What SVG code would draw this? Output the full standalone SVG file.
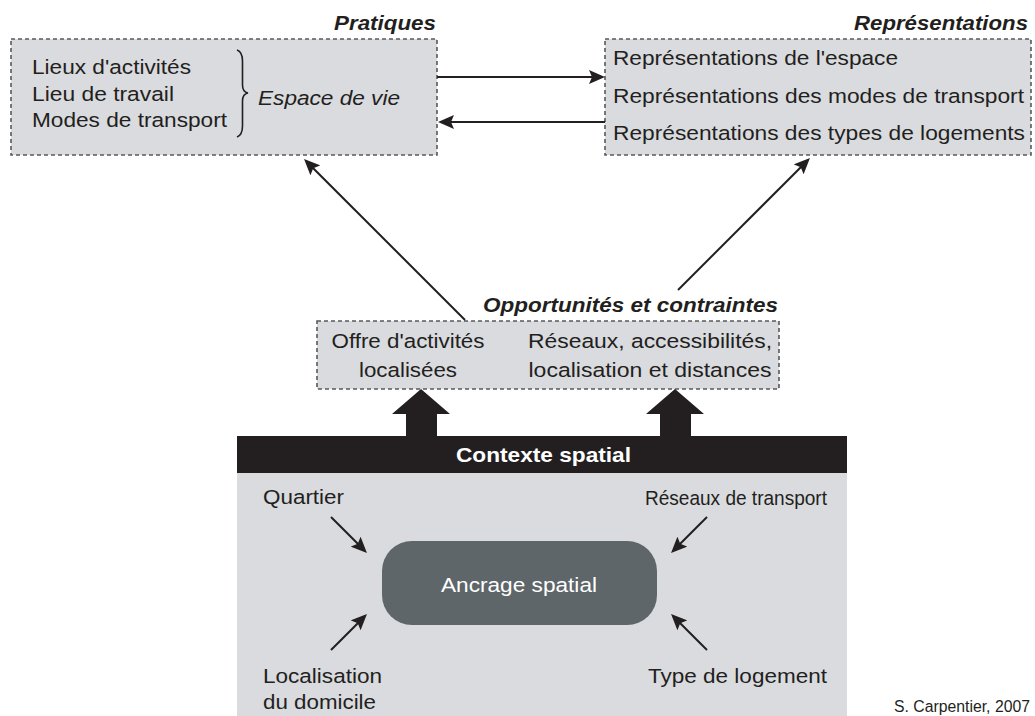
<svg xmlns="http://www.w3.org/2000/svg" width="1035" height="716" viewBox="0 0 1035 716">
<defs>
<style>
text{font-family:"Liberation Sans",Arial,Helvetica,sans-serif;fill:#231f20;font-size:20.5px}
.ttl{font-weight:bold;font-style:italic;text-anchor:end}
.it{font-style:italic}
.mid{text-anchor:middle}
.end{text-anchor:end}
.box{fill:#d9dbdf;stroke:#58595b;stroke-width:1.6;stroke-dasharray:4 3}
.ln{stroke:#231f20;stroke-width:2;fill:none;marker-end:url(#ah)}
.wt{fill:#ffffff}
</style>
<marker id="ah" viewBox="0 0 16 14" refX="8" refY="7" markerWidth="16" markerHeight="14" orient="auto" markerUnits="userSpaceOnUse">
<path d="M0,0 L16,7 L0,14 L3,7 z" fill="#231f20"/>
</marker>
</defs>
<rect width="1035" height="716" fill="#ffffff"/>

<g id="pratiques">
<rect class="box" x="11" y="39" width="426" height="116"/>
<text class="ttl" x="436" y="30" textLength="102" lengthAdjust="spacingAndGlyphs">Pratiques</text>
<text x="32" y="74" textLength="159" lengthAdjust="spacingAndGlyphs">Lieux d'activités</text>
<text x="32" y="100.5" textLength="142" lengthAdjust="spacingAndGlyphs">Lieu de travail</text>
<text x="32" y="126.5" textLength="195" lengthAdjust="spacingAndGlyphs">Modes de transport</text>
<path d="M237,50 Q242.5,52 242.5,61 L242.5,85 Q242.5,92 248,93 Q242.5,94 242.5,101 L242.5,126 Q242.5,135 237,137" fill="none" stroke="#231f20" stroke-width="1.6"/>
<text class="it" x="258" y="105" textLength="142" lengthAdjust="spacingAndGlyphs">Espace de vie</text>
</g>

<g id="representations">
<rect class="box" x="605" y="39" width="426" height="116"/>
<text class="ttl" x="1028" y="30" textLength="174" lengthAdjust="spacingAndGlyphs">Représentations</text>
<text x="613" y="65" textLength="285" lengthAdjust="spacingAndGlyphs">Représentations de l'espace</text>
<text x="613" y="103" textLength="411" lengthAdjust="spacingAndGlyphs">Représentations des modes de transport</text>
<text x="613" y="140" textLength="412" lengthAdjust="spacingAndGlyphs">Représentations des types de logements</text>
</g>

<g id="opportunites">
<rect class="box" x="317" y="321" width="462" height="68"/>
<text class="ttl" x="778" y="312" textLength="295" lengthAdjust="spacingAndGlyphs">Opportunités et contraintes</text>
<text class="mid" x="408" y="348" textLength="153" lengthAdjust="spacingAndGlyphs">Offre d'activités</text>
<text class="mid" x="408" y="377" textLength="98" lengthAdjust="spacingAndGlyphs">localisées</text>
<text class="mid" x="650" y="348" textLength="244" lengthAdjust="spacingAndGlyphs">Réseaux, accessibilités,</text>
<text class="mid" x="650" y="377" textLength="243" lengthAdjust="spacingAndGlyphs">localisation et distances</text>
</g>

<g id="contexte">
<rect x="237" y="473" width="610" height="243" fill="#d9dbdf"/>
<rect x="237" y="436" width="610" height="37" fill="#231f20"/>
<text class="mid wt" x="543.5" y="462" font-weight="bold" textLength="175" lengthAdjust="spacingAndGlyphs">Contexte spatial</text>
<text x="263" y="504" textLength="81" lengthAdjust="spacingAndGlyphs">Quartier</text>
<text class="end" x="827" y="505" textLength="182" lengthAdjust="spacingAndGlyphs">Réseaux de transport</text>
<text x="263" y="683" textLength="119" lengthAdjust="spacingAndGlyphs">Localisation</text>
<text x="263" y="709" textLength="113" lengthAdjust="spacingAndGlyphs">du domicile</text>
<text class="end" x="827" y="683" textLength="179" lengthAdjust="spacingAndGlyphs">Type de logement</text>
</g>

<g id="ancrage">
<rect x="382" y="541" width="275" height="84" rx="30" ry="30" fill="#5e6669"/>
<text class="mid wt" x="519" y="592" textLength="156" lengthAdjust="spacingAndGlyphs">Ancrage spatial</text>
</g>

<g id="connectors">
<line class="ln" x1="437" y1="77" x2="597" y2="77"/>
<line class="ln" x1="605" y1="122" x2="446" y2="122"/>
<line class="ln" x1="465" y1="320" x2="309.7" y2="164.7"/>
<line class="ln" x1="678" y1="290" x2="804.3" y2="163.7"/>
<line class="ln" x1="331" y1="517" x2="361.3" y2="547.3"/>
<line class="ln" x1="331" y1="650" x2="361.3" y2="619.7"/>
<line class="ln" x1="707" y1="517" x2="676.7" y2="547.3"/>
<line class="ln" x1="707" y1="650" x2="676.7" y2="619.7"/>
<polygon points="421,389 450,414 437,414 437,437 406,437 406,414 392,414" fill="#231f20"/>
<polygon points="675,389 704,414 691,414 691,437 660,437 660,414 646,414" fill="#231f20"/>
</g>

<text class="end" x="1030" y="712" style="font-size:16px" textLength="136" lengthAdjust="spacingAndGlyphs">S. Carpentier, 2007</text>
</svg>
